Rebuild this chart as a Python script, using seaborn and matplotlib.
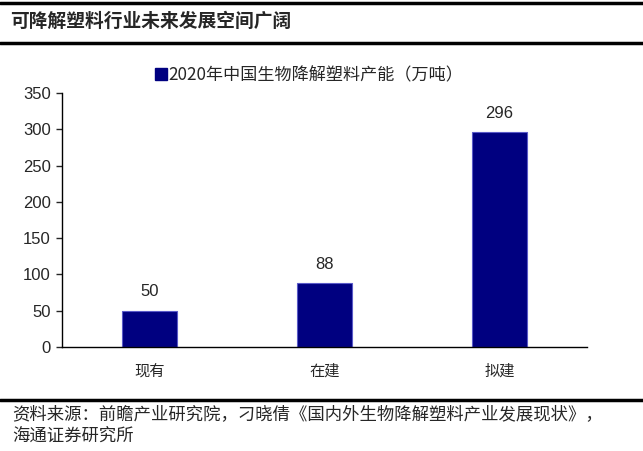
import matplotlib
matplotlib.use("Agg")
import matplotlib.pyplot as plt
import numpy as np
import pandas as pd
import seaborn as sns
from matplotlib.lines import Line2D

categories = ["现有", "在建", "拟建"]
capacity = [50, 88, 296]
y_ticks = [0, 50, 100, 150, 200, 250, 300, 350]
series_label = "2020年中国生物降解塑料产能（万吨）"
title_text = "可降解塑料行业未来发展空间广阔"
source_text = "资料来源：前瞻产业研究院，刁晓倩《国内外生物降解塑料产业发展现状》，\n海通证券研究所"

sns.set_style("white")
plt.rcParams["font.family"] = ["Noto Sans CJK SC", "DejaVu Sans"]

df = pd.DataFrame({"category": categories, "capacity": capacity})

fig = plt.figure(figsize=(6.43, 4.51), dpi=100)
ax = fig.add_axes([62 / 643, 1 - 347 / 451, 525 / 643, 254 / 451])

sns.barplot(data=df, x="category", y="capacity", color="#000080",
            width=0.314, edgecolor="#5a5ac8", linewidth=0.8,
            saturation=1, label=series_label, ax=ax)

# value labels above the bars
for i, v in enumerate(capacity):
    ax.text(i, v + 16, str(v), ha="center", va="bottom", fontsize=12,
            family=["Liberation Sans", "DejaVu Sans"])

ax.set_xlim(-0.5, 2.5)
ax.set_ylim(0, 350)
ax.set_yticks(y_ticks)
ax.set_yticklabels([str(t) for t in y_ticks], fontsize=12,
                   family=["Liberation Sans", "DejaVu Sans"])
ax.set_xticks(range(len(categories)))
ax.set_xticklabels(categories, fontsize=11)
ax.set_xticks([-0.5, 0.5, 1.5, 2.5], minor=True)
ax.tick_params(axis="x", which="major", length=0, pad=11)
ax.tick_params(axis="x", which="minor", length=4, direction="out", width=1)
ax.tick_params(axis="y", length=4, direction="out", width=1, left=True, pad=4)
ax.set_xlabel("")
ax.set_ylabel("")
for side in ["top", "right"]:
    ax.spines[side].set_visible(False)
for side in ["left", "bottom"]:
    ax.spines[side].set_color("black")
    ax.spines[side].set_linewidth(1)

if ax.get_legend() is not None:
    ax.get_legend().remove()
handle = Line2D([], [], marker="s", linestyle="none", color="#000080",
                markersize=8)
fig.legend([handle], [series_label], loc="center",
           bbox_to_anchor=(309 / 643, 1 - 75 / 451), frameon=False,
           fontsize=12.3, handletextpad=0.05, handlelength=0.7)

# header / footer rules
for y, lw in [(1 - 2.5 / 451, 2.5), (1 - 43 / 451, 2.5), (1 - 400 / 451, 2.5)]:
    fig.add_artist(Line2D([0, 1], [y, y], transform=fig.transFigure,
                          color="black", linewidth=lw))

fig.text(10 / 643, 1 - 21 / 451, title_text, fontsize=13.5, fontweight="bold",
         ha="left", va="center")
fig.text(12 / 643, 1 - 425 / 451, source_text, fontsize=12.5, ha="left",
         va="center", linespacing=1.25)

fig.savefig("out.png", dpi=100)
